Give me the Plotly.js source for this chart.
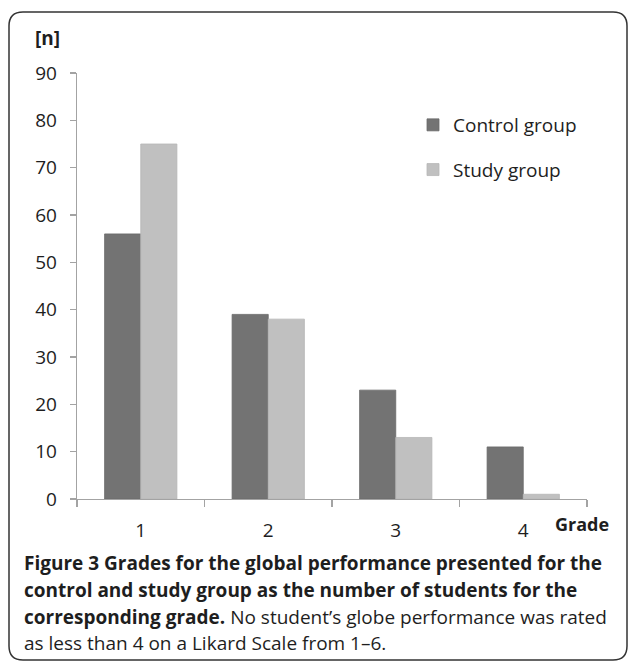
<!DOCTYPE html>
<html>
<head>
<meta charset="utf-8">
<script src="https://cdn.plot.ly/plotly-3.0.1.min.js"></script>
<style>
  html, body { margin: 0; padding: 0; background: #fff; }
  #chart { width: 629px; height: 662px; }
</style>
</head>
<body>
<div id="chart"></div>
<script>
// ---- Data ----
const grades = ['1', '2', '3', '4'];
const controlGroup = [56, 39, 23, 11];
const studyGroup = [75, 38, 13, 1];
const seriesNames = ['Control group', 'Study group'];
const yTickValues = [0, 10, 20, 30, 40, 50, 60, 70, 80, 90];
const captionLines = [
  '<b>Figure 3 Grades for the global performance presented for the</b>',
  '<b>control and study group as the number of students for the</b>',
  '<b>corresponding grade.</b> No student\u2019s globe performance was rated',
  'as less than 4 on a Likard Scale from 1\u20136.'
];

// ---- Geometry helpers (pixel -> paper) ----
const W = 629, H = 662;
const M = { l: 77, r: 42, t: 73, b: 163 };
const PW = W - M.l - M.r, PH = H - M.t - M.b;
const px = x => (x - M.l) / PW;
const py = y => (M.t + PH - y) / PH;

const FONT = '"Open Sans", "Noto Sans", sans-serif';
const TXT = '#1e1e1e';
const AXC = '#a3a3a3';

// rounded frame
function roundRect(x0, y0, x1, y1, r) {
  const P = (x, y) => px(x) + ',' + py(y);
  return 'M' + P(x0 + r, y0) + ' L' + P(x1 - r, y0) + ' Q' + P(x1, y0) + ' ' + P(x1, y0 + r) +
    ' L' + P(x1, y1 - r) + ' Q' + P(x1, y1) + ' ' + P(x1 - r, y1) +
    ' L' + P(x0 + r, y1) + ' Q' + P(x0, y1) + ' ' + P(x0, y1 - r) +
    ' L' + P(x0, y0 + r) + ' Q' + P(x0, y0) + ' ' + P(x0 + r, y0) + ' Z';
}

const traces = [
  {
    type: 'bar', name: seriesNames[0], x: grades, y: controlGroup,
    legendgroup: 'c',
    marker: { color: '#737373', line: { color: '#6a6a6a', width: 0.8 } },
    hoverinfo: 'skip'
  },
  {
    type: 'bar', name: seriesNames[1], x: grades, y: studyGroup,
    legendgroup: 's',
    marker: { color: '#c0c0c0', line: { color: '#b6b6b6', width: 0.8 } },
    hoverinfo: 'skip'
  }
];

const captionY = [563, 590, 617, 643];
const annotations = captionLines.map((t, i) => ({
  text: t, xref: 'paper', yref: 'paper', x: px(22), y: py(captionY[i]),
  xanchor: 'left', yanchor: 'middle', showarrow: false, align: 'left',
  font: { family: FONT, size: 19, color: TXT }
}));
annotations.push({
  text: '<b>[n]</b>', xref: 'paper', yref: 'paper', x: px(33), y: py(38),
  xanchor: 'left', yanchor: 'middle', showarrow: false,
  font: { family: FONT, size: 19, color: TXT }
});
annotations.push({
  text: '<b>Grade</b>', xref: 'paper', yref: 'paper', x: px(553), y: py(524),
  xanchor: 'left', yanchor: 'middle', showarrow: false,
  font: { family: FONT, size: 18, color: TXT }
});

const layout = {
  width: W, height: H,
  margin: M,
  paper_bgcolor: '#fff', plot_bgcolor: '#fff',
  font: { family: FONT, size: 19, color: TXT },
  barmode: 'group', bargap: 0.433, bargroupgap: 0,
  showlegend: true,
  legend: {
    x: px(413), y: py(106), xanchor: 'left', yanchor: 'top',
    traceorder: 'grouped', tracegroupgap: 17,
    font: { family: FONT, size: 19, color: TXT },
    bgcolor: 'rgba(0,0,0,0)', borderwidth: 0
  },
  xaxis: {
    type: 'category', tickson: 'boundaries',
    ticks: 'outside', ticklen: 7, tickcolor: AXC, tickwidth: 1.3,
    showline: true, linecolor: AXC, linewidth: 1.3,
    showgrid: false, zeroline: false,
    tickfont: { family: FONT, size: 19, color: TXT },
    ticklabelstandoff: 14
  },
  yaxis: {
    range: [0, 90], tickvals: yTickValues,
    ticks: 'outside', ticklen: 6, tickcolor: AXC, tickwidth: 1.3,
    showline: true, linecolor: AXC, linewidth: 1.3,
    showgrid: false, zeroline: false,
    tickfont: { family: FONT, size: 19, color: TXT },
    ticklabelstandoff: 9
  },
  shapes: [{
    type: 'path', xref: 'paper', yref: 'paper',
    path: roundRect(9, 12, 627, 660, 14),
    line: { color: '#333', width: 1.5 }, fillcolor: 'rgba(0,0,0,0)', layer: 'above'
  }],
  annotations: annotations
};

Plotly.newPlot('chart', traces, layout, { displayModeBar: false, staticPlot: true });
</script>
</body>
</html>
